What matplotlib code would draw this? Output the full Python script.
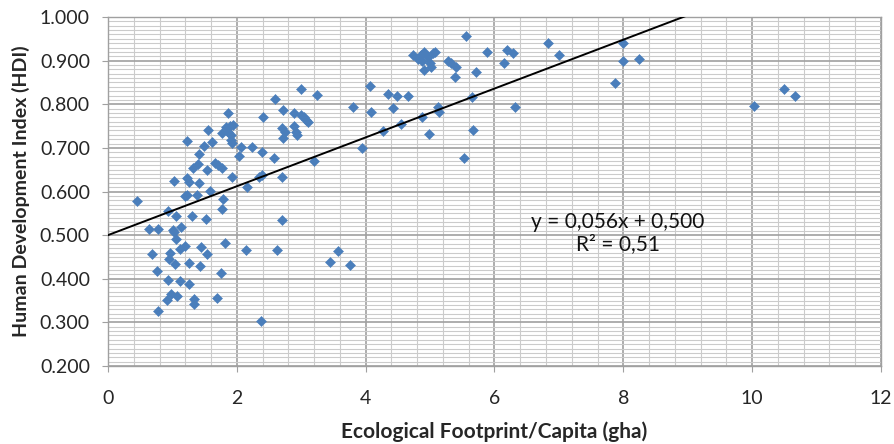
import matplotlib
matplotlib.use("Agg")
import matplotlib.pyplot as plt
from matplotlib.ticker import MultipleLocator, FormatStrFormatter

# Ecological footprint per capita (gha) and HDI
footprint = [
    0.45, 0.64, 0.69, 0.76, 0.78, 0.78, 0.91, 0.93, 0.93, 0.94, 0.97, 0.98,
    1.01, 1.02, 1.02, 1.04, 1.06, 1.06, 1.07, 1.11, 1.12, 1.13, 1.20, 1.20,
    1.23, 1.23, 1.23, 1.25, 1.26, 1.26, 1.30, 1.32, 1.34, 1.34, 1.38, 1.40,
    1.42, 1.42, 1.43, 1.45, 1.49, 1.52, 1.53, 1.54, 1.55, 1.58, 1.61, 1.66,
    1.69, 1.71, 1.75, 1.77, 1.77, 1.77, 1.78, 1.81, 1.83, 1.87, 1.87, 1.89,
    1.91, 1.91, 1.93, 1.93, 1.94, 2.04, 2.06, 2.15, 2.16, 2.23, 2.35, 2.37,
    2.39, 2.39, 2.40, 2.58, 2.60, 2.62, 2.70, 2.70, 2.70, 2.71, 2.75, 2.71,
    2.88, 2.88, 2.92, 2.93, 2.99, 3.00, 3.04, 3.07, 3.11, 3.20, 3.25, 3.45,
    3.57, 3.76, 3.80, 3.94, 4.06, 4.08, 4.27, 4.35, 4.42, 4.48, 4.55, 4.66,
    4.73, 4.82, 4.86, 4.90, 4.87, 4.96, 5.00, 5.01, 4.90, 5.04, 5.08, 4.87,
    4.99, 5.12, 5.14, 5.28, 5.32, 5.41, 5.39, 5.53, 5.55, 5.65, 5.66, 5.72,
    5.88, 6.15, 6.19, 6.28, 6.32, 6.83, 7.00, 7.87, 7.99, 7.99, 8.25, 10.03,
    10.49, 10.66,
]
hdi = [
    0.578, 0.515, 0.456, 0.418, 0.515, 0.326, 0.351, 0.556, 0.397, 0.446, 0.459, 0.366,
    0.511, 0.625, 0.508, 0.433, 0.544, 0.492, 0.360, 0.469, 0.395, 0.519, 0.475, 0.589,
    0.716, 0.630, 0.593, 0.435, 0.622, 0.388, 0.544, 0.655, 0.353, 0.342, 0.592, 0.663,
    0.687, 0.619, 0.430, 0.473, 0.704, 0.537, 0.649, 0.456, 0.742, 0.602, 0.714, 0.666,
    0.355, 0.661, 0.414, 0.733, 0.655, 0.559, 0.582, 0.483, 0.747, 0.781, 0.737, 0.750,
    0.729, 0.718, 0.712, 0.634, 0.752, 0.681, 0.701, 0.467, 0.611, 0.701, 0.634, 0.303,
    0.691, 0.638, 0.771, 0.676, 0.813, 0.467, 0.634, 0.534, 0.745, 0.787, 0.737, 0.723,
    0.781, 0.750, 0.737, 0.730, 0.834, 0.775, 0.771, 0.765, 0.760, 0.670, 0.821, 0.439,
    0.464, 0.431, 0.794, 0.700, 0.842, 0.783, 0.739, 0.823, 0.791, 0.819, 0.755, 0.819,
    0.914, 0.903, 0.913, 0.920, 0.898, 0.909, 0.895, 0.886, 0.878, 0.917, 0.920, 0.770,
    0.732, 0.793, 0.783, 0.898, 0.894, 0.886, 0.862, 0.677, 0.957, 0.816, 0.742, 0.875,
    0.919, 0.895, 0.924, 0.918, 0.793, 0.940, 0.914, 0.849, 0.940, 0.899, 0.903, 0.796,
    0.835, 0.819,
]

# linear trendline as printed on the chart
slope = 0.056
intercept = 0.500
trend_x = [0, 12]
equation_text = "y = 0,056x + 0,500\nR² = 0,51"

plt.rcParams["font.family"] = ["Lato", "DejaVu Sans"]

fig = plt.figure(figsize=(8.94, 4.44), dpi=100)
ax = fig.add_axes([108 / 894, 78 / 444, 773 / 894, 349 / 444])

# gridlines (Excel style: dense minor grid, darker majors)
ax.xaxis.set_major_locator(MultipleLocator(2))
ax.xaxis.set_minor_locator(MultipleLocator(0.4))
ax.yaxis.set_major_locator(MultipleLocator(0.1))
ax.yaxis.set_minor_locator(MultipleLocator(0.01))
ax.grid(which="minor", color="#cbcbcb", linewidth=0.8)
ax.grid(which="major", color="#a0a0a0", linewidth=1.2)
ax.set_axisbelow(True)

ax.plot(footprint, hdi, linestyle="none", marker="D", markersize=4.6,
        markerfacecolor="#4a7ebb", markeredgecolor="#4a7ebb", markeredgewidth=0.4,
        zorder=3)

ax.plot(trend_x, [intercept + slope * v for v in trend_x], color="black",
        linewidth=1.4, zorder=4)

ax.text(7.92, 0.505, equation_text, ha="center", va="center", fontsize=15,
        linespacing=1.15, color="#111111", zorder=5)

ax.set_xlim(0, 12)
ax.set_ylim(0.2, 1.0)
ax.yaxis.set_major_formatter(FormatStrFormatter("%.3f"))

for side in ["left", "bottom", "right", "top"]:
    ax.spines[side].set_color("#a0a0a0")
    ax.spines[side].set_linewidth(1.0)

ax.tick_params(which="major", direction="out", length=4, color="#a0a0a0",
               labelsize=14, labelcolor="#262626")
ax.tick_params(axis="x", which="major", pad=13)
ax.tick_params(axis="y", which="major", pad=9)
ax.tick_params(which="minor", length=0)

ax.set_xlabel("Ecological Footprint/Capita (gha)", fontsize=15,
              fontweight="bold", labelpad=11, color="#262626")
ax.set_ylabel("Human Development Index (HDI)", fontsize=14,
              fontweight="bold", labelpad=7, color="#262626")

fig.savefig("out.png", dpi=100, facecolor="white")
